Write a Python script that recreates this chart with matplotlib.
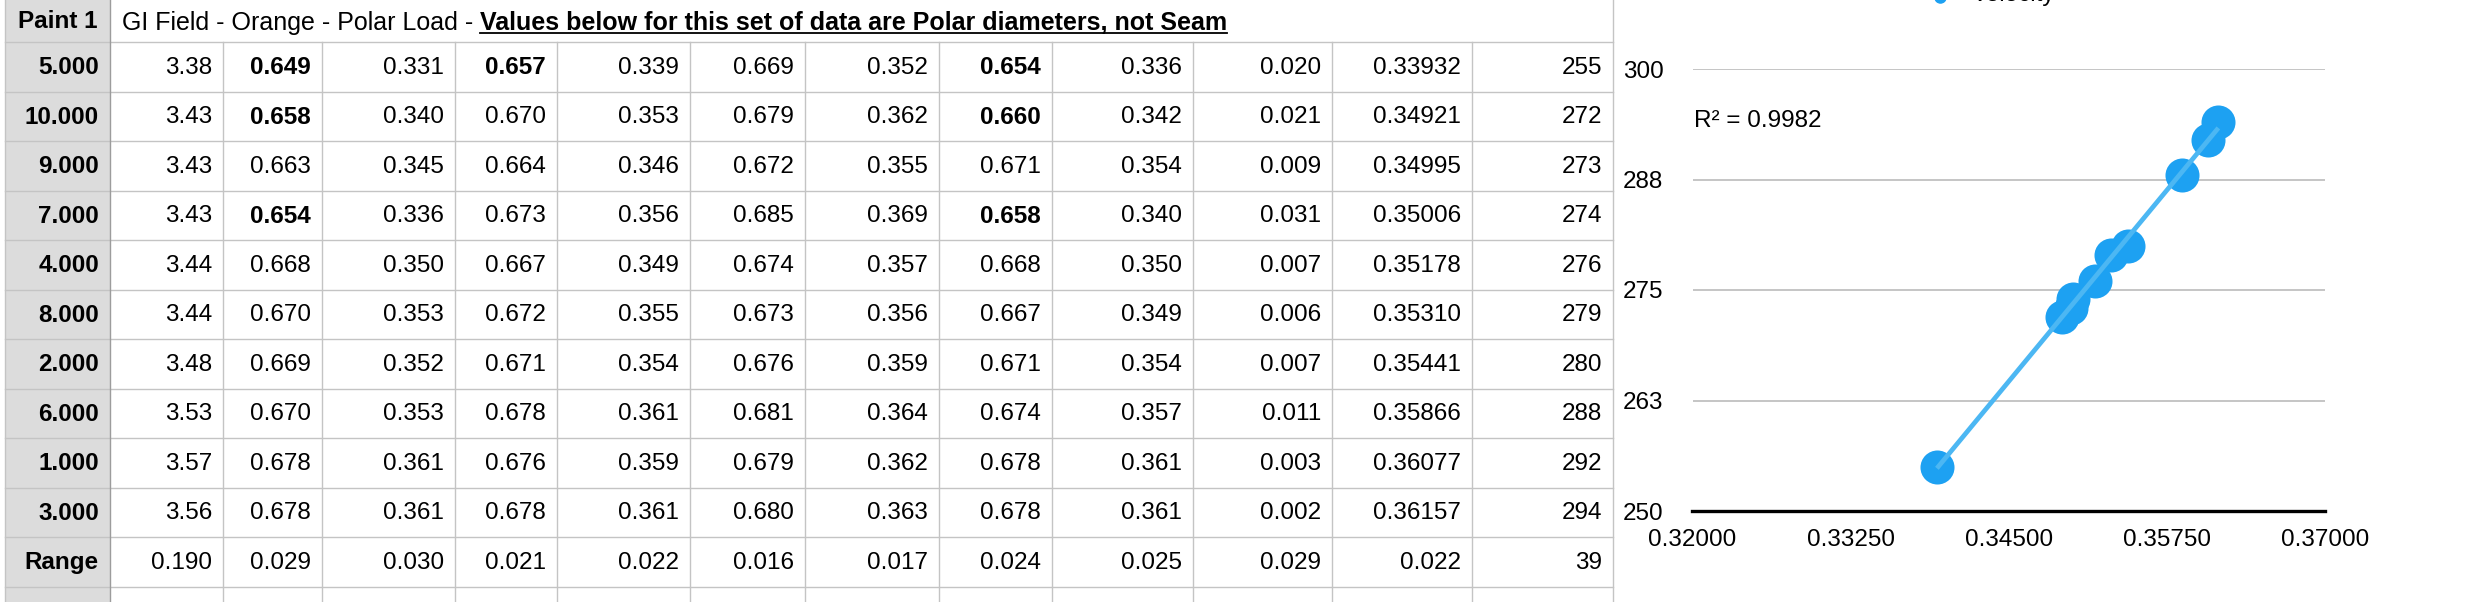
import numpy as np
import matplotlib
matplotlib.use('Agg')
import matplotlib.pyplot as plt
from matplotlib.patches import Rectangle

plt.rcParams['font.family'] = ['Liberation Sans', 'DejaVu Sans']

# table contents
header_left = 'Paint 1'
title_plain = 'GI Field - Orange - Polar Load - '
title_bold = 'Values below for this set of data are Polar diameters, not Seam'
row_labels = ['5.000', '10.000', '9.000', '7.000', '4.000', '8.000',
              '2.000', '6.000', '1.000', '3.000', 'Range']
table_rows = [
    ['3.38', '0.649', '0.331', '0.657', '0.339', '0.669', '0.352', '0.654', '0.336', '0.020', '0.33932', '255'],
    ['3.43', '0.658', '0.340', '0.670', '0.353', '0.679', '0.362', '0.660', '0.342', '0.021', '0.34921', '272'],
    ['3.43', '0.663', '0.345', '0.664', '0.346', '0.672', '0.355', '0.671', '0.354', '0.009', '0.34995', '273'],
    ['3.43', '0.654', '0.336', '0.673', '0.356', '0.685', '0.369', '0.658', '0.340', '0.031', '0.35006', '274'],
    ['3.44', '0.668', '0.350', '0.667', '0.349', '0.674', '0.357', '0.668', '0.350', '0.007', '0.35178', '276'],
    ['3.44', '0.670', '0.353', '0.672', '0.355', '0.673', '0.356', '0.667', '0.349', '0.006', '0.35310', '279'],
    ['3.48', '0.669', '0.352', '0.671', '0.354', '0.676', '0.359', '0.671', '0.354', '0.007', '0.35441', '280'],
    ['3.53', '0.670', '0.353', '0.678', '0.361', '0.681', '0.364', '0.674', '0.357', '0.011', '0.35866', '288'],
    ['3.57', '0.678', '0.361', '0.676', '0.359', '0.679', '0.362', '0.678', '0.361', '0.003', '0.36077', '292'],
    ['3.56', '0.678', '0.361', '0.678', '0.361', '0.680', '0.363', '0.678', '0.361', '0.002', '0.36157', '294'],
    ['0.190', '0.029', '0.030', '0.021', '0.022', '0.016', '0.017', '0.024', '0.025', '0.029', '0.022', '39'],
]
bold_cells = [(0, 1), (0, 3), (0, 7), (1, 1), (1, 7), (3, 1), (3, 7)]

# chart data
diam_avg = [0.33932, 0.34921, 0.34995, 0.35006, 0.35178, 0.35310, 0.35441, 0.35866, 0.36077, 0.36157]
velocity = [255, 272, 273, 274, 276, 279, 280, 288, 292, 294]
x_ticks = [0.32, 0.3325, 0.345, 0.3575, 0.37]
x_ticklabels = ['0.32000', '0.33250', '0.34500', '0.35750', '0.37000']
y_ticks = [250, 262.5, 275, 287.5, 300]
y_ticklabels = ['250', '263', '275', '288', '300']
series_name = 'Velocity'
r2_label = 'R\u00b2 = 0.9982'

W, H = 2490, 602
fig = plt.figure(figsize=(W / 100, H / 100), dpi=100)
fig.patch.set_facecolor('white')

# full-figure axes in pixel units for the spreadsheet part
ax = fig.add_axes([0, 0, 1, 1])
ax.set_xlim(0, W)
ax.set_ylim(H, 0)
ax.axis('off')

col_edges = [5, 110, 223, 322, 455, 557, 690, 805, 939, 1052, 1193, 1332, 1472, 1613]
head_h = 42
row_h = 49.5
fs = 17.5
grid_c = '#c4c4c4'

ax.add_patch(Rectangle((col_edges[0], 0), col_edges[1] - col_edges[0], H,
                       facecolor='#dcdcdc', edgecolor='none', zorder=0))

n_lines = int((H - head_h) / row_h) + 1
for k in range(n_lines + 1):
    y = head_h + k * row_h
    ax.plot([col_edges[0], col_edges[-1]], [y, y], color=grid_c, lw=1.0, zorder=1)
for i, x in enumerate(col_edges):
    if i in (0, 1, len(col_edges) - 1):
        ax.plot([x, x], [0, H], color='#9c9c9c' if i == 1 else grid_c, lw=1.0, zorder=2)
    else:
        ax.plot([x, x], [head_h, H], color=grid_c, lw=1.0, zorder=1)

# header row
ax.text(col_edges[1] - 12, head_h / 2 + 1, header_left, ha='right', va='center',
        fontsize=fs, fontweight='bold')
t1 = ax.text(122, 30, title_plain, ha='left', va='baseline', fontsize=18)
fig.canvas.draw()
inv = ax.transData.inverted()
bb = t1.get_window_extent()
x_end = inv.transform((bb.x1, bb.y0))[0]
t2 = ax.text(x_end, 30, title_bold, ha='left', va='baseline', fontsize=18, fontweight='bold')
fig.canvas.draw()
bb2 = t2.get_window_extent()
ux0 = inv.transform((bb2.x0, 0))[0]
ux1 = inv.transform((bb2.x1, 0))[0]
ax.plot([ux0, ux1], [33, 33], color='black', lw=1.3)

# body rows
for r, (lab, vals) in enumerate(zip(row_labels, table_rows)):
    yc = head_h + row_h * (r + 0.5) + 1
    ax.text(col_edges[1] - 11, yc, lab, ha='right', va='center', fontsize=fs, fontweight='bold')
    for c, v in enumerate(vals):
        w = 'bold' if (r, c) in bold_cells else 'normal'
        ax.text(col_edges[c + 2] - 11, yc, v, ha='right', va='center', fontsize=fs, fontweight=w)

# legend (mostly cut off at the top edge, as in the screenshot)
ax.plot([1940], [-3], 'o', color='#1da1f2', ms=8, clip_on=False)
ax.text(1972, 1, series_name, ha='left', va='baseline', fontsize=fs)
ax.text(1694, 121, r2_label, ha='left', va='center', fontsize=fs)

# scatter chart
left, right, top, bottom = 1692.5, 2325, 69, 511
cax = fig.add_axes([left / W, 1 - bottom / H, (right - left) / W, (bottom - top) / H])
cax.set_xlim(x_ticks[0], x_ticks[-1])
cax.set_ylim(y_ticks[0], y_ticks[-1])
cax.patch.set_alpha(0)
for s in ('left', 'right', 'top'):
    cax.spines[s].set_visible(False)
cax.spines['bottom'].set_linewidth(2.4)
cax.spines['bottom'].set_color('black')
cax.spines['bottom'].set_zorder(5)
for yt in y_ticks[1:]:
    cax.axhline(yt, color='#b5b5b5', lw=1.1, zorder=0)
cax.set_xticks(x_ticks)
cax.set_xticklabels(x_ticklabels)
cax.set_yticks(y_ticks)
cax.set_yticklabels(y_ticklabels)
cax.tick_params(length=0, labelsize=fs)
cax.tick_params(axis='x', pad=13)
cax.tick_params(axis='y', pad=21)

cax.plot(diam_avg, velocity, 'o', color='#1da1f2', ms=24.5, mew=0, zorder=3, clip_on=False)
coef = np.polyfit(diam_avg, velocity, 1)
xs = np.array([min(diam_avg), max(diam_avg)])
cax.plot(xs, np.polyval(coef, xs), color='#4cb7f3', lw=3.4, zorder=4, solid_capstyle='butt')

fig.savefig('out.png', dpi=100)
